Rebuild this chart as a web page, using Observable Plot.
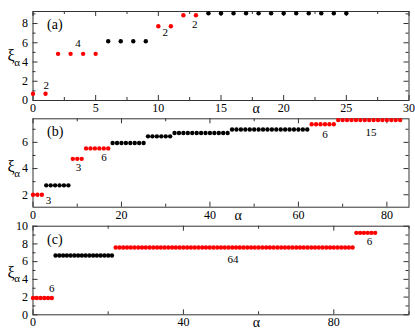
<!DOCTYPE html>
<html>
<head>
<meta charset="utf-8">
<script src="https://cdn.jsdelivr.net/npm/d3@7"></script>
<script src="https://cdn.jsdelivr.net/npm/@observablehq/plot@0.6"></script>
<style>
  body { margin: 0; background: #fff; }
  #chart { position: relative; width: 415px; height: 330px; background: #fff; overflow: hidden; }
  #chart svg { position: absolute; left: 0; font-family: 'Liberation Serif', 'Times New Roman', serif; }
  #chart svg text { font-family: 'Liberation Serif', 'Times New Roman', serif; }
</style>
</head>
<body>
<div id="chart"></div>
<script>
// ---- Panel (a) ----
const aLevels = [0.70, 4.85, 6.16, 7.72, 8.86, 9.07];
const aCounts = [2, 4, 4, 2, 2, 12];
const aColors = ["red", "red", "black", "red", "red", "black"];
const aNoteX = [1.06, 3.6, 10.56, 12.9];
const aNoteY = [1.56, 5.9, 7.06, 7.9];
const aNoteText = ["2", "4", "2", "2"];
const aXMajor = [0, 5, 10, 15, 20, 25, 30];
const aXMinor = [2.5, 7.5, 12.5, 17.5, 22.5, 27.5];
const aYMajor = [0, 2, 4, 6, 8];
const aYMinor = [1, 3, 5, 7, 9];

// ---- Panel (b) ----
const bLevels = [2.0, 2.72, 4.74, 5.54, 5.95, 6.46, 6.72, 6.98, 7.38, 7.70];
const bCounts = [3, 6, 3, 6, 8, 6, 13, 18, 6, 15];
const bColors = ["red", "black", "red", "red", "black", "black", "black", "black", "red", "red"];
const bNoteX = [3.5, 10.27, 16.07, 66, 76.4];
const bNoteY = [1.57, 4.05, 4.86, 6.64, 6.76];
const bNoteText = ["3", "3", "6", "6", "15"];
const bXMajor = [0, 20, 40, 60, 80];
const bXMinor = [10, 30, 50, 70];
const bYMajor = [2, 4, 6];
const bYMinor = [3, 5, 7];

// ---- Panel (c) ----
const cLevels = [1.9, 6.7, 7.6, 9.25];
const cCounts = [6, 16, 64, 6];
const cColors = ["red", "black", "red", "red"];
const cNoteX = [4.97, 53.2, 89.5];
const cNoteY = [3.0, 6.24, 8.3];
const cNoteText = ["6", "64", "6"];
const cXMajor = [0, 40, 80];
const cXMinor = [20, 60, 100];
const cYMajor = [0, 2, 4, 6, 8, 10];
const cYMinor = [1, 3, 5, 7, 9];

function expand(levels, counts, colors) {
  const pts = [];
  let i = 0;
  levels.forEach((v, g) => {
    for (let k = 0; k < counts[g]; k++) pts.push({alpha: i++, xi: v, color: colors[g]});
  });
  return pts;
}

const panels = [
  {name: "(a)", top: 0, height: 114, mt: 11, mb: 14, xDomain: [0, 30], yDomain: [0, 9.25],
   pts: expand(aLevels, aCounts, aColors), noteX: aNoteX, noteY: aNoteY, noteText: aNoteText,
   xMajor: aXMajor, xMinor: aXMinor, yMajor: aYMajor, yMinor: aYMinor, alphaX: 17.8, xiDy: 0},
  {name: "(b)", top: 114, height: 109, mt: 4.3, mb: 16.3, xDomain: [0, 85], yDomain: [1.05, 7.8],
   pts: expand(bLevels, bCounts, bColors), noteX: bNoteX, noteY: bNoteY, noteText: bNoteText,
   xMajor: bXMajor, xMinor: bXMinor, yMajor: bYMajor, yMinor: bYMinor, alphaX: 46.4, xiDy: 4},
  {name: "(c)", top: 223, height: 107, mt: 2.7, mb: 15.7, xDomain: [0, 100], yDomain: [0, 10],
   pts: expand(cLevels, cCounts, cColors), noteX: cNoteX, noteY: cNoteY, noteText: cNoteText,
   xMajor: cXMajor, xMinor: cXMinor, yMajor: cYMajor, yMinor: cYMinor, alphaX: 59.4, xiDy: 2}
];

const W = 415, ML = 32.5, MR = 6.5;
const axisColor = "#333";
const FONT = "'Liberation Serif', 'Times New Roman', serif";
const container = document.getElementById("chart");

panels.forEach(p => {
  const innerH = p.height - p.mt - p.mb;
  const innerW = W - ML - MR;
  const majLen = 5, minLen = 3;
  const notes = p.noteText.map((t, i) => ({x: p.noteX[i], y: p.noteY[i], t}));
  const xTicks = (arr, len) => [
    Plot.tickX(arr, {x: d => d, stroke: axisColor, insetTop: innerH - len}),
    Plot.tickX(arr, {x: d => d, stroke: axisColor, insetBottom: innerH - len})
  ];
  const yTicks = (arr, len) => [
    Plot.tickY(arr, {y: d => d, stroke: axisColor, insetRight: innerW - len}),
    Plot.tickY(arr, {y: d => d, stroke: axisColor, insetLeft: innerW - len})
  ];
  const svg = Plot.plot({
    width: W, height: p.height,
    marginLeft: ML, marginRight: MR, marginTop: p.mt, marginBottom: p.mb,
    x: {domain: p.xDomain},
    y: {domain: p.yDomain},
    style: {fontFamily: FONT, fontSize: "11px", color: "#000", background: "transparent", overflow: "visible"},
    marks: [
      Plot.frame({stroke: axisColor, strokeWidth: 1}),
      ...xTicks(p.xMajor, majLen),
      ...xTicks(p.xMinor, minLen),
      ...yTicks(p.yMajor, majLen),
      ...yTicks(p.yMinor, minLen),
      Plot.axisX(p.xMajor, {tickSize: 0, tickPadding: 3, label: null, fontSize: 12, fontFamily: FONT}),
      Plot.axisY(p.yMajor, {tickSize: 0, tickPadding: 5, label: null, fontSize: 12, fontFamily: FONT}),
      Plot.dot(p.pts, {x: "alpha", y: "xi", fill: d => d.color === "red" ? "#ff0000" : "#000000", r: 2.2, stroke: "none"}),
      Plot.text(notes, {x: "x", y: "y", text: "t", fontSize: 11, fontFamily: FONT}),
      Plot.text([p.name], {frameAnchor: "top-left", dx: 14, dy: 13, text: d => d, textAnchor: "start", lineAnchor: "middle", fontSize: 14, fontFamily: FONT}),
      Plot.text(["α"], {x: () => p.alphaX, frameAnchor: "bottom", text: d => d, dy: 8, fontSize: 14, lineAnchor: "middle", fontFamily: FONT}),
      Plot.text(["ξ"], {frameAnchor: "left", dx: -22, dy: p.xiDy, text: d => d, fontSize: 16, textAnchor: "middle", fontFamily: FONT}),
      Plot.text(["α"], {frameAnchor: "left", dx: -16, dy: p.xiDy + 6, text: d => d, fontSize: 11, textAnchor: "middle", fontFamily: FONT})
    ]
  });
  svg.style.top = p.top + "px";
  container.appendChild(svg);
});
</script>
</body>
</html>
